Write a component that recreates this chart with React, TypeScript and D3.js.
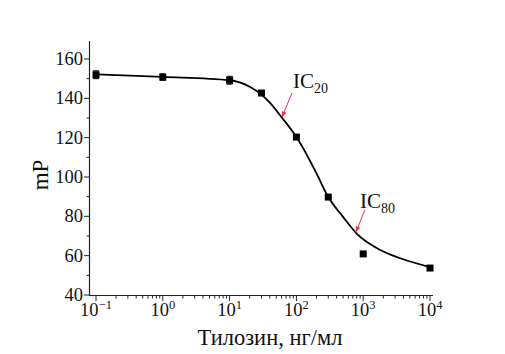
import { useEffect, useRef } from 'react'
import * as d3 from 'd3'

// measured points (ng/ml -> mP)
const conc = [0.1, 1, 10, 30, 100, 300, 1000, 10000]
const mP = [152.0, 150.8, 149.2, 142.7, 120.3, 89.8, 60.9, 53.7]
const errs = [2.0, 1.6, 2.0, 0, 0, 0, 0, 0]

// fitted curve
const fitConc = [0.1, 1, 10, 20, 30, 40, 60, 100, 150, 200, 300, 500, 800, 1800, 3500, 10000]
const fitMP = [152.2, 150.9, 149.2, 145.9, 141.9, 137.8, 130.4, 120.3, 110.0, 101.8, 89.8, 79.7, 71.2, 62.9, 58.8, 54.2]

const yTicks = [40, 60, 80, 100, 120, 140, 160]
const xExps = [-1, 0, 1, 2, 3, 4]

const icNames = ['20', '80']
const icConc = [61, 780]

export default function App() {
  const svgRef = useRef<SVGSVGElement>(null)
  const width = 505
  const height = 354

  useEffect(() => {
    if (!svgRef.current) return
    const svg = d3.select(svgRef.current)
    svg.selectAll('*').remove()

    const x = d3.scaleLog().domain([0.1, 10000]).range([96, 430])
    const y = d3.scaleLinear().domain([40, 160]).range([295, 59])
    const font = '"Liberation Serif", "Times New Roman", serif'

    const g = svg.append('g')

    // axes lines
    g.append('line').attr('x1', 89).attr('x2', 433).attr('y1', 295.5).attr('y2', 295.5)
      .attr('stroke', '#222').attr('stroke-width', 1.2)
    g.append('line').attr('x1', 89.5).attr('x2', 89.5).attr('y1', 41).attr('y2', 295.5)
      .attr('stroke', '#222').attr('stroke-width', 1.2)

    // y ticks
    d3.range(40, 170, 10).forEach(v => {
      const major = v % 20 === 0
      g.append('line').attr('x1', 89.5).attr('x2', major ? 84 : 86.5)
        .attr('y1', y(v)).attr('y2', y(v)).attr('stroke', '#222').attr('stroke-width', 1)
    })
    yTicks.forEach(v => {
      g.append('text').attr('x', 83).attr('y', y(v) + 6)
        .attr('text-anchor', 'end').attr('font-family', font).attr('font-size', 18.5)
        .attr('fill', '#111').text(v)
    })

    // x ticks
    xExps.forEach(e => {
      const base = Math.pow(10, e)
      g.append('line').attr('x1', x(base)).attr('x2', x(base)).attr('y1', 295.5).attr('y2', 301)
        .attr('stroke', '#222').attr('stroke-width', 1)
      if (e < 4) {
        d3.range(2, 10).forEach(m => {
          g.append('line').attr('x1', x(base * m)).attr('x2', x(base * m))
            .attr('y1', 295.5).attr('y2', 298.5).attr('stroke', '#222').attr('stroke-width', 1)
        })
      }
      const t = g.append('text').attr('x', x(base)).attr('y', 316)
        .attr('text-anchor', 'middle').attr('font-family', font).attr('font-size', 18.5)
        .attr('fill', '#111')
      t.append('tspan').text('10')
      t.append('tspan').attr('dy', -7).attr('font-size', 12.5).text(e < 0 ? '\u22121' : String(e))
    })

    // fitted curve
    const curvePts = fitConc.map((c, i) => [c, fitMP[i]] as [number, number])
    const curveLine = d3.line<[number, number]>()
      .x(d => x(d[0])).y(d => y(d[1]))
      .curve(d3.curveMonotoneX)
    g.append('path')
      .datum(curvePts)
      .attr('d', curveLine)
      .attr('fill', 'none').attr('stroke', '#000').attr('stroke-width', 1.8)

    // error bars
    conc.forEach((c, i) => {
      if (!errs[i]) return
      const cx = x(c)
      const top = y(mP[i] + errs[i])
      const bot = y(mP[i] - errs[i])
      g.append('line').attr('x1', cx).attr('x2', cx).attr('y1', top).attr('y2', bot)
        .attr('stroke', '#000').attr('stroke-width', 1)
      ;[top, bot].forEach(yy => {
        g.append('line').attr('x1', cx - 3).attr('x2', cx + 3).attr('y1', yy).attr('y2', yy)
          .attr('stroke', '#000').attr('stroke-width', 1)
      })
    })

    // points
    g.selectAll('.pt')
      .data(conc)
      .enter().append('rect')
      .attr('class', 'pt')
      .attr('x', c => x(c) - 3.5)
      .attr('y', (c, i) => y(mP[i]) - 3.5)
      .attr('width', 7)
      .attr('height', 7)
      .attr('fill', '#000')

    // IC annotations
    const defs = svg.append('defs')
    defs.append('marker').attr('id', 'arr').attr('viewBox', '0 0 10 10')
      .attr('refX', 9).attr('refY', 5).attr('markerWidth', 6).attr('markerHeight', 6)
      .attr('orient', 'auto-start-reverse')
      .append('path').attr('d', 'M0,1 L10,5 L0,9 Z').attr('fill', '#e8334a')

    const interp = d3.scaleLog().domain(fitConc).range(fitMP)
    icNames.forEach((name, i) => {
      const tx = x(icConc[i])
      const ty = y(interp(icConc[i]))
      const sx = i === 0 ? tx + 10 : tx + 9
      const sy = i === 0 ? ty - 25 : ty - 23
      g.append('line').attr('x1', sx).attr('y1', sy).attr('x2', tx).attr('y2', ty - 1)
        .attr('stroke', '#e8334a').attr('stroke-width', 1).attr('marker-end', 'url(#arr)')
      const t = g.append('text')
        .attr('x', i === 0 ? tx + 11 : tx + 4)
        .attr('y', i === 0 ? ty - 30 : ty - 25)
        .attr('font-family', font).attr('font-size', 21).attr('fill', '#111')
      t.append('tspan').text('IC')
      t.append('tspan').attr('dy', 5).attr('font-size', 14).text(name)
    })

    // axis titles
    g.append('text').attr('x', 270).attr('y', 345).attr('text-anchor', 'middle')
      .attr('font-family', font).attr('font-size', 22.5).attr('fill', '#111')
      .text('Тилозин, нг/мл')
    g.append('text').attr('transform', 'translate(48,175) rotate(-90)').attr('text-anchor', 'middle')
      .attr('font-family', font).attr('font-size', 23).attr('fill', '#111')
      .text('mP')
  }, [])

  return (
    <svg ref={svgRef} width={width} height={height}
      style={{ position: 'absolute', left: 0, top: 0, background: '#fff' }} />
  )
}
